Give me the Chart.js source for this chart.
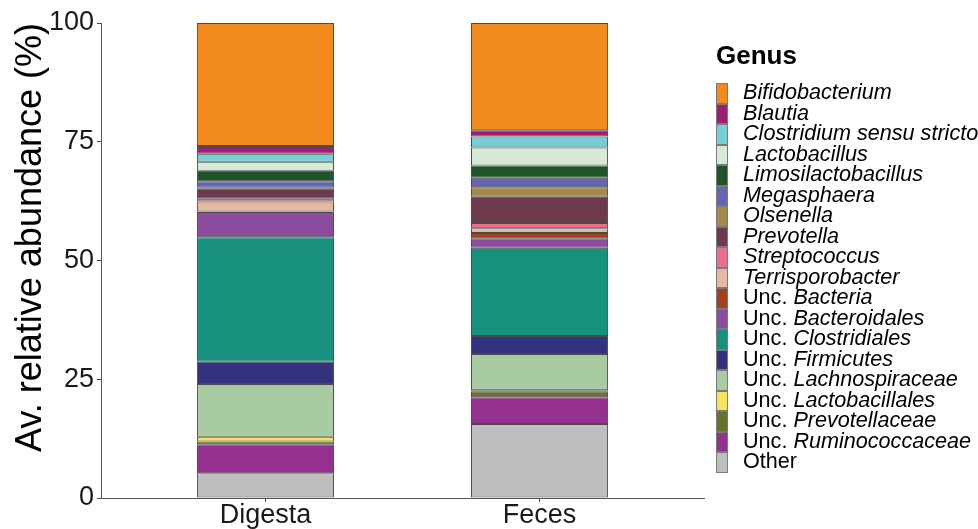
<!DOCTYPE html>
<html>
<head>
<meta charset="utf-8">
<script src="https://cdn.jsdelivr.net/npm/chart.js@4"></script>
<style>
  html, body { margin: 0; padding: 0; background: #fff; overflow: hidden; }
  #wrap { position: relative; width: 978px; height: 529px; }
  #legend { position: absolute; left: 716px; top: 0; font-family: 'Liberation Sans', Arial, sans-serif; color: #000; white-space: nowrap; }
  #legend .title { position: absolute; left: 0; top: 42px; font-size: 26px; font-weight: bold; line-height: 26px; }
  #legend .items { position: absolute; left: 0; top: 83px; }
  #legend .row { display: flex; align-items: center; height: 20.5px; }
  #legend .key { width: 12px; height: 20.5px; box-sizing: border-box; border: 1px solid #7a7a7a; flex: none; }
  #legend .lab { margin-left: 15px; font-size: 21.6px; line-height: 20.5px; position: relative; top: -1px; }
</style>
</head>
<body>
<div id="wrap">
  <canvas id="c"></canvas>
  <div id="legend"><div class="title">Genus</div><div class="items" id="items"></div></div>
</div>
<script>
const categories = ['Digesta', 'Feces'];
const genusPrefix = ['', '', '', '', '', '', '', '', '', '', 'Unc. ', 'Unc. ', 'Unc. ', 'Unc. ', 'Unc. ', 'Unc. ', 'Unc. ', 'Unc. ', ''];
const genusName = ['Bifidobacterium', 'Blautia', 'Clostridium sensu stricto', 'Lactobacillus', 'Limosilactobacillus',
  'Megasphaera', 'Olsenella', 'Prevotella', 'Streptococcus', 'Terrisporobacter', 'Bacteria', 'Bacteroidales',
  'Clostridiales', 'Firmicutes', 'Lachnospiraceae', 'Lactobacillales', 'Prevotellaceae', 'Ruminococcaceae', 'Other'];
const genusItalic = [true, true, true, true, true, true, true, true, true, true, true, true, true, true, true, true, true, true, false];
const digestaValues = [25.9, 1.6, 1.7, 1.9, 2.2, 1.4, 0.1, 2.2, 0.6, 2.1, 0.1, 5.3, 26.2, 4.7, 11.1, 1.0, 0.6, 6.1, 5.2];
const fecesValues   = [22.6, 1.3, 2.3, 3.8, 2.6, 2.0, 2.0, 5.5, 1.1, 1.0, 1.1, 2.0, 18.6, 3.8, 7.6, 0.2, 1.3, 5.6, 15.6];
const genusColors = ['#F28A1E', '#9E1F72', '#77CFD6', '#D7EAD8', '#1F5429', '#6366B0', '#A6884A', '#6D3B4D', '#E86F89',
  '#E3BAA0', '#A3421E', '#8A4C9E', '#17917D', '#33327F', '#A9CBA3', '#F7E35A', '#667330', '#94308F', '#BEBEBE'];
const yTicks = [0, 25, 50, 75, 100];
const yTitle = 'Av. relative abundance (%)';

const FONT = "'Liberation Sans', Arial, sans-serif";

// datasets: ggplot stacks first level on top, Chart.js stacks first dataset at bottom
const datasets = [];
for (let i = genusName.length - 1; i >= 0; i--) {
  datasets.push({
    label: genusPrefix[i] + genusName[i],
    data: categories.map((c, k) => ({ x: k + 1, y: (k === 0 ? digestaValues : fecesValues)[i] })),
    backgroundColor: genusColors[i],
    borderColor: '#4a4a4a',
    borderWidth: 1,
    borderSkipped: false,
    grouped: false,
    barPercentage: 1,
    categoryPercentage: 0.5
  });
}

// legend (HTML, from the same arrays)
const items = document.getElementById('items');
genusName.forEach((g, i) => {
  const row = document.createElement('div');
  row.className = 'row';
  const key = document.createElement('div');
  key.className = 'key';
  key.style.background = genusColors[i];
  const lab = document.createElement('span');
  lab.className = 'lab';
  if (genusPrefix[i]) lab.appendChild(document.createTextNode(genusPrefix[i]));
  if (genusItalic[i]) { const it = document.createElement('i'); it.textContent = g; lab.appendChild(it); }
  else lab.appendChild(document.createTextNode(g));
  row.appendChild(key); row.appendChild(lab);
  items.appendChild(row);
});

new Chart(document.getElementById('c'), {
  type: 'bar',
  data: { datasets },
  options: {
    responsive: true,
    maintainAspectRatio: false,
    animation: false,
    layout: { padding: { left: 0, top: 23, right: 274, bottom: 0 } },
    plugins: { legend: { display: false }, tooltip: { enabled: false } },
    scales: {
      x: {
        type: 'linear',
        stacked: true,
        offset: false,
        min: 0.4,
        max: 2.6,
        afterBuildTicks: (s) => { s.ticks = categories.map((c, k) => ({ value: k + 1 })); },
        afterFit: (s) => { s.height = 31; },
        ticks: {
          callback: (v) => categories[Math.round(v) - 1],
          color: '#1a1a1a',
          font: { family: FONT, size: 27, lineHeight: 1 },
          padding: 0,
          maxRotation: 0,
          autoSkip: false
        },
        grid: { display: true, offset: false, drawOnChartArea: false, drawTicks: true, tickLength: 4, color: '#444' },
        border: { display: true, color: '#555', width: 1 }
      },
      y: {
        stacked: true,
        min: 0,
        max: 100,
        afterBuildTicks: (s) => { s.ticks = yTicks.map(v => ({ value: v })); },
        afterFit: (s) => { s.width = 101; },
        ticks: {
          color: '#1a1a1a',
          font: { family: FONT, size: 27 },
          padding: 3
        },
        grid: { display: true, drawOnChartArea: false, drawTicks: true, tickLength: 4, color: '#444' },
        border: { display: true, color: '#555', width: 1 },
        title: {
          display: true,
          text: yTitle,
          align: 'end',
          color: '#000',
          font: { family: FONT, size: 36 },
          padding: { top: 9, bottom: 0 }
        }
      }
    }
  }
});
</script>
</body>
</html>
